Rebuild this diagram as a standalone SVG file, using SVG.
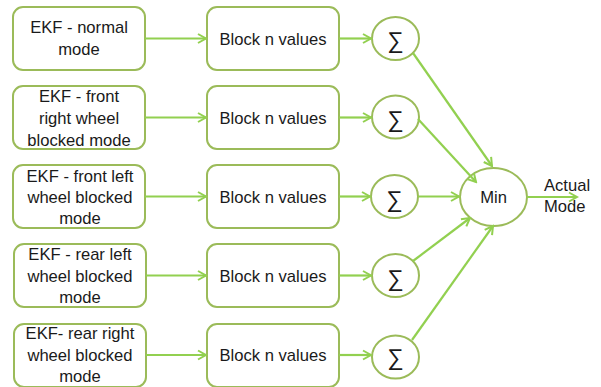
<svg xmlns="http://www.w3.org/2000/svg" width="601" height="387" viewBox="0 0 601 387">
  <style>
    .box { fill: #ffffff; stroke: #9bbb59; stroke-width: 2; }
    .node text { font-family: "Liberation Sans", Arial, sans-serif; font-size: 16.6px; fill: #1a1a1a; text-anchor: middle; }
    .node text.sigma { font-size: 23px; }
    .edge { stroke: #92d050; stroke-width: 2.2; fill: none; marker-end: url(#arrow); }
    .label { font-family: "Liberation Sans", Arial, sans-serif; font-size: 16.6px; fill: #1a1a1a; }
  </style>
  <defs>
    <marker id="arrow" viewBox="0 0 12 12" refX="10" refY="6" markerWidth="12" markerHeight="12" markerUnits="userSpaceOnUse" orient="auto">
      <path d="M2,1.5 L10,6 L2,10.5" fill="none" stroke="#92d050" stroke-width="2"/>
    </marker>
  </defs>
  <rect width="601" height="387" fill="#ffffff"/>

  <!-- EKF filter banks -->
  <g id="ekf-normal" class="node">
    <rect class="box" x="13" y="7" width="132" height="63" rx="10"/>
    <text x="79" y="33">EKF - normal</text>
    <text x="79" y="55">mode</text>
  </g>
  <g id="ekf-front-right" class="node">
    <rect class="box" x="13" y="86" width="132" height="63" rx="10"/>
    <text x="79" y="102">EKF - front</text>
    <text x="79" y="124">right wheel</text>
    <text x="79" y="146">blocked mode</text>
  </g>
  <g id="ekf-front-left" class="node">
    <rect class="box" x="13" y="165" width="132" height="63" rx="10"/>
    <text x="80" y="182">EKF - front left</text>
    <text x="80" y="203">wheel blocked</text>
    <text x="80" y="224">mode</text>
  </g>
  <g id="ekf-rear-left" class="node">
    <rect class="box" x="14" y="244" width="132" height="63" rx="10"/>
    <text x="80" y="260">EKF - rear left</text>
    <text x="80" y="282">wheel blocked</text>
    <text x="80" y="303">mode</text>
  </g>
  <g id="ekf-rear-right" class="node">
    <rect class="box" x="14" y="324" width="132" height="63" rx="10"/>
    <text x="80" y="339">EKF- rear right</text>
    <text x="80" y="361">wheel blocked</text>
    <text x="80" y="382">mode</text>
  </g>

  <!-- Block n values -->
  <g id="block-1" class="node">
    <rect class="box" x="207" y="7" width="132" height="63" rx="10"/>
    <text x="273" y="45">Block n values</text>
  </g>
  <g id="block-2" class="node">
    <rect class="box" x="207" y="86" width="132" height="63" rx="10"/>
    <text x="273" y="124">Block n values</text>
  </g>
  <g id="block-3" class="node">
    <rect class="box" x="207" y="165" width="132" height="63" rx="10"/>
    <text x="273" y="203">Block n values</text>
  </g>
  <g id="block-4" class="node">
    <rect class="box" x="207" y="244" width="132" height="63" rx="10"/>
    <text x="273" y="282">Block n values</text>
  </g>
  <g id="block-5" class="node">
    <rect class="box" x="207" y="324" width="132" height="63" rx="10"/>
    <text x="273" y="361">Block n values</text>
  </g>

  <!-- Summation nodes -->
  <g id="sum-1" class="node">
    <ellipse class="box" cx="395.5" cy="38.5" rx="23.5" ry="21.5"/>
    <text class="sigma" x="395.5" y="48">∑</text>
  </g>
  <g id="sum-2" class="node">
    <ellipse class="box" cx="395.5" cy="117" rx="23.5" ry="21.5"/>
    <text class="sigma" x="395.5" y="127">∑</text>
  </g>
  <g id="sum-3" class="node">
    <ellipse class="box" cx="394.5" cy="196.5" rx="23.5" ry="21.5"/>
    <text class="sigma" x="394.5" y="207">∑</text>
  </g>
  <g id="sum-4" class="node">
    <ellipse class="box" cx="395.5" cy="275.5" rx="23.5" ry="21.5"/>
    <text class="sigma" x="395.5" y="286">∑</text>
  </g>
  <g id="sum-5" class="node">
    <ellipse class="box" cx="395.5" cy="357" rx="23.5" ry="21.5"/>
    <text class="sigma" x="395.5" y="365">∑</text>
  </g>

  <!-- Minimum selector -->
  <g id="min" class="node">
    <ellipse class="box" cx="493.5" cy="197" rx="33.5" ry="29"/>
    <text x="493.5" y="203">Min</text>
  </g>

  <!-- Connectors -->
  <g id="connectors">
    <line class="edge" x1="145" y1="38.5" x2="206" y2="38.5"/>
    <line class="edge" x1="145" y1="117.5" x2="206" y2="117.5"/>
    <line class="edge" x1="145" y1="196.5" x2="206" y2="196.5"/>
    <line class="edge" x1="146" y1="275.5" x2="206" y2="275.5"/>
    <line class="edge" x1="146" y1="355" x2="206" y2="355"/>

    <line class="edge" x1="339" y1="38.5" x2="371" y2="38.5"/>
    <line class="edge" x1="339" y1="117.5" x2="371" y2="117.5"/>
    <line class="edge" x1="339" y1="196.5" x2="370" y2="196.5"/>
    <line class="edge" x1="339" y1="275.5" x2="371" y2="275.5"/>
    <line class="edge" x1="339" y1="355" x2="371" y2="355"/>

    <line class="edge" x1="413" y1="53" x2="492" y2="166"/>
    <line class="edge" x1="418" y1="119" x2="476" y2="182"/>
    <line class="edge" x1="418" y1="196.5" x2="459" y2="196.5"/>
    <line class="edge" x1="413" y1="261" x2="470" y2="218"/>
    <line class="edge" x1="412" y1="340" x2="493" y2="226"/>

    <line class="edge" x1="527" y1="197" x2="577" y2="197"/>
  </g>

  <text class="label" x="544" y="191">Actual</text>
  <text class="label" x="544" y="212">Mode</text>
</svg>
